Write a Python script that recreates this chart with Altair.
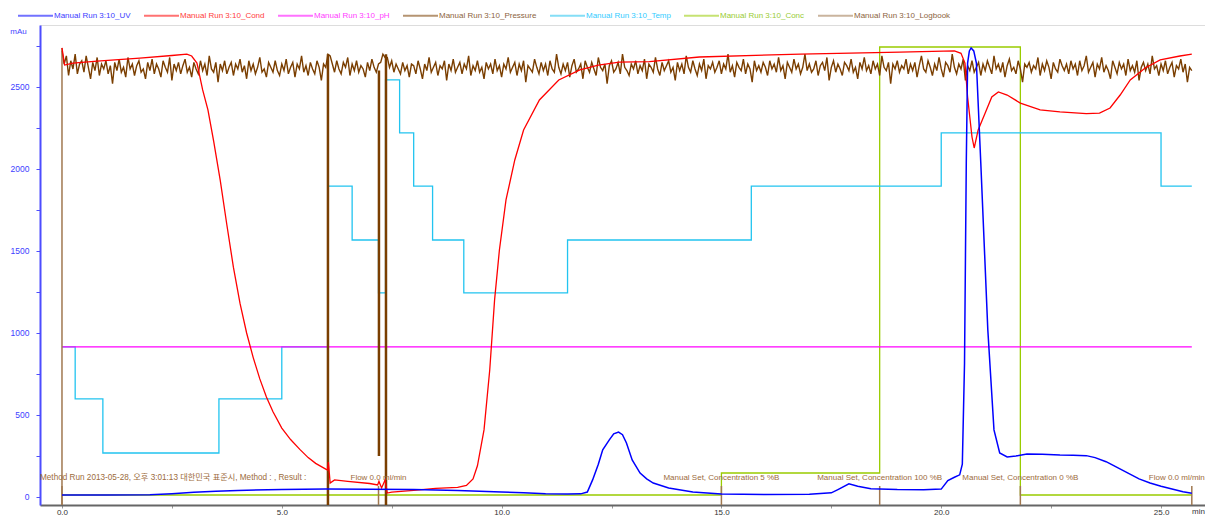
import altair as alt
import pandas as pd

# ---------------- data ----------------
series_names = ["Manual Run 3:10_UV", "Manual Run 3:10_Cond", "Manual Run 3:10_pH",
                "Manual Run 3:10_Pressure", "Manual Run 3:10_Temp", "Manual Run 3:10_Conc",
                "Manual Run 3:10_Logbook"]
line_colors = ["#0000FF", "#FF0000", "#FF00FF", "#7A3E00", "#22C4F0", "#99CC00", "#A07850"]
label_colors = ["#3C3CFF", "#FF3C3C", "#FF3CFF", "#8C6440", "#33CCFF", "#99CC33", "#8C6440"]

uv_t = [0.0, 1.0, 2.0, 2.5, 3.0, 3.5, 4.0, 5.0, 6.0, 7.0, 8.0, 9.0, 9.5, 10.0, 10.5, 11.0, 11.5,
        11.8, 11.95, 12.07, 12.2, 12.3, 12.45, 12.55, 12.66, 12.75, 12.84, 12.97, 13.15, 13.3,
        13.45, 13.8, 14.35, 15.0, 16.0, 17.0, 17.5, 17.65, 17.9, 18.1, 18.4, 19.0, 19.6, 20.0,
        20.15, 20.3, 20.42, 20.48, 20.53, 20.57, 20.6, 20.64, 20.68, 20.74, 20.8, 20.9, 21.06,
        21.2, 21.33, 21.5, 21.7, 21.95, 22.3, 22.7, 23.0, 23.3, 23.5, 23.75, 24.0, 24.25, 24.5,
        24.75, 25.0, 25.25, 25.5, 25.7]
uv_v = [12, 12, 14, 20, 28, 35, 40, 45, 48, 47, 45, 40, 35, 30, 25, 20, 18,
        19, 30, 104, 200, 287, 348, 385, 396, 380, 329, 226, 146, 110,
        85, 55, 30, 18, 15, 17, 25, 45, 80, 65, 50, 45, 44, 48,
        100, 120, 135, 200, 817, 2037, 2646, 2720, 2738, 2720, 2646, 2037, 1018,
        409, 268, 244, 250, 262, 260, 256, 255, 252, 240, 215, 180, 145, 110,
        85, 65, 48, 32, 22]

cond_t = [0.0, 0.06, 0.25, 0.8, 1.77, 2.5, 2.84, 2.95, 3.07, 3.2, 3.32, 3.45, 3.6, 3.75, 3.9,
          4.05, 4.2, 4.35, 4.5, 4.65, 4.8, 5.0, 5.2, 5.41, 5.6, 5.77, 6.0, 6.04, 6.06, 6.1, 6.2,
          6.5, 7.0, 7.18, 7.21, 7.27, 7.35, 7.4, 7.5, 8.0, 8.5, 9.0, 9.2, 9.35, 9.45, 9.6, 9.73,
          9.84, 9.95, 10.1, 10.3, 10.5, 10.86, 11.3, 11.78, 12.2, 12.68, 13.36, 14.5, 16.8, 19.06,
          20.3, 20.45, 20.54, 20.6, 20.7, 20.75, 20.84, 21.0, 21.15, 21.3, 21.5, 21.8, 22.25,
          22.7, 23.3, 23.6, 23.84, 24.07, 24.3, 24.64, 24.98, 25.43, 25.7]
cond_v = [2738, 2634, 2646, 2658, 2676, 2692, 2700, 2689, 2646, 2482, 2360, 2170, 1930, 1660, 1400,
          1180, 1000, 850, 720, 610, 520, 420, 350, 290, 240, 205, 170, 165, 213, 85, 104,
          95, 82, 73, 95, 55, 104, 24, 30, 40, 52, 58, 70, 110, 190, 409, 774,
          1200, 1506, 1811, 2055, 2238, 2421, 2543, 2604, 2634, 2652, 2655, 2683, 2701, 2713,
          2720, 2705, 2646, 2439, 2195, 2128, 2238, 2341, 2439, 2470, 2451, 2402, 2360,
          2348, 2338, 2341, 2372, 2451, 2543, 2616, 2665, 2689, 2700]

ph_t = [0.0, 25.7]
ph_v = [915, 915]

# pressure sampled every 0.05 min from 0.00 to 25.70
pressure_v = [
    2720, 2640, 2690, 2570, 2660, 2610, 2700, 2580, 2640, 2660, 2590, 2690, 2620, 2550, 2650, 2600, 2680, 2570, 2640, 2610,
    2660, 2580, 2630, 2520, 2650, 2600, 2670, 2590, 2620, 2560, 2680, 2610, 2640, 2570, 2630, 2660, 2590, 2610, 2550, 2650,
    2600, 2670, 2580, 2640, 2610, 2560, 2660, 2620, 2590, 2680, 2540, 2640, 2600, 2650, 2580, 2630, 2670, 2590, 2620, 2560,
    2650, 2610, 2580, 2660, 2600, 2640, 2570, 2690, 2610, 2590, 2650, 2530, 2640, 2600, 2660, 2580, 2620, 2650, 2570, 2640,
    2610, 2670, 2590, 2630, 2550, 2660, 2600, 2640, 2580, 2620, 2680, 2590, 2610, 2560, 2650, 2620, 2590, 2660, 2600, 2570,
    2640, 2600, 2670, 2580, 2620, 2650, 2560, 2640, 2610, 2690, 2590, 2630, 2570, 2650, 2610, 2580, 2660, 2620, 2540, 2640,
    2620, 2700, 2690, 2640, 2590, 2660, 2610, 2580, 2650, 2620, 2680, 2570, 2640, 2600, 2660, 2590, 2630, 2610, 2560, 2650,
    2600, 2670, 2620, 2590, 2640, 2650, 2700, 2680, 2680, 2620, 2660, 2590, 2640, 2610, 2580, 2650, 2600, 2630, 2560, 2640,
    2630, 2580, 2660, 2610, 2550, 2640, 2600, 2680, 2590, 2620, 2650, 2570, 2630, 2610, 2660, 2540, 2640, 2600, 2670, 2590,
    2620, 2650, 2580, 2640, 2610, 2690, 2570, 2630, 2600, 2660, 2590, 2620, 2550, 2650, 2610, 2640, 2580, 2670, 2600, 2630,
    2560, 2640, 2610, 2680, 2590, 2620, 2650, 2570, 2640, 2600, 2660, 2530, 2630, 2610, 2590, 2670, 2620, 2580, 2650, 2600,
    2640, 2570, 2660, 2610, 2590, 2700, 2620, 2580, 2640, 2600, 2650, 2560, 2630, 2670, 2590, 2610, 2640, 2550, 2660, 2620,
    2590, 2650, 2610, 2570, 2680, 2620, 2600, 2640, 2520, 2630, 2660, 2590, 2610, 2650, 2580, 2700, 2620, 2600, 2570, 2640,
    2610, 2660, 2580, 2630, 2600, 2670, 2550, 2640, 2620, 2590, 2680, 2610, 2570, 2650, 2600, 2630, 2660, 2590, 2620, 2540,
    2650, 2600, 2640, 2580, 2690, 2620, 2590, 2660, 2610, 2570, 2640, 2600, 2670, 2550, 2630, 2610, 2650, 2590, 2620, 2660,
    2580, 2640, 2610, 2700, 2590, 2630, 2560, 2650, 2620, 2600, 2670, 2580, 2640, 2610, 2530, 2660, 2600, 2630, 2590, 2650,
    2620, 2570, 2660, 2610, 2640, 2590, 2680, 2600, 2630, 2550, 2650, 2620, 2590, 2670, 2610, 2640, 2580, 2620, 2700, 2600,
    2640, 2590, 2610, 2660, 2570, 2630, 2650, 2600, 2680, 2540, 2620, 2660, 2590, 2640, 2610, 2570, 2650, 2630, 2600, 2670,
    2590, 2620, 2550, 2650, 2610, 2680, 2600, 2630, 2580, 2660, 2610, 2640, 2570, 2690, 2620, 2600, 2650, 2520, 2640, 2610,
    2660, 2590, 2630, 2610, 2670, 2580, 2640, 2600, 2650, 2560, 2630, 2690, 2610, 2590, 2660, 2620, 2570, 2640, 2600, 2680,
    2610, 2560, 2650, 2630, 2590, 2700, 2620, 2580, 2640, 2610, 2670, 2540, 2630, 2600, 2660, 2590, 2620, 2650, 2570, 2640,
    2600, 2660, 2620, 2580, 2690, 2610, 2640, 2590, 2650, 2560, 2630, 2670, 2600, 2620, 2580, 2660, 2610, 2530, 2640, 2620,
    2650, 2590, 2630, 2610, 2680, 2570, 2640, 2600, 2660, 2620, 2550, 2650, 2610, 2590, 2670, 2630, 2600, 2640, 2580, 2660,
    2610, 2640, 2570, 2660, 2600, 2630, 2690, 2590, 2620, 2650, 2560, 2640, 2610, 2680, 2590, 2630, 2600, 2550, 2660, 2620,
    2580, 2650, 2610, 2640, 2570, 2670, 2600, 2630, 2590, 2660, 2540, 2620, 2650, 2600, 2640, 2580, 2690, 2610, 2630, 2570,
    2640, 2600, 2660, 2580, 2620, 2650, 2560, 2630, 2610, 2670, 2590, 2640, 2530, 2620, 2600,
]
pressure_step = 0.05
spike_t = [6.05, 7.21, 7.37]
spike_low = [-200, 250, -200]
spike_high = [2700, 2600, 2700]

temp_t = [0.0, 0.3, 0.93, 3.57, 5.0, 6.05, 6.6, 7.2, 7.36, 7.68, 8.0, 8.43, 9.14, 11.5, 15.68, 20.0, 25.0, 25.7]
temp_v = [915, 598, 268, 598, 915, 1896, 1567, 1244, 2543, 2220, 1896, 1567, 1244, 1567, 1896, 2220, 1896, 1896]

conc_t = [0.0, 15.0, 18.6, 21.8, 25.7]
conc_v = [12, 146, 2744, 12, 12]

event_t = [0.0, 7.2, 15.0, 18.6, 21.8, 25.7]
event_label = ["Method Run 2013-05-28, 오후 3:01:13 대한민국 표준시, Method : , Result :",
               "Flow 0.0 ml/min", "Manual Set, Concentration 5 %B",
               "Manual Set, Concentration 100 %B", "Manual Set, Concentration 0 %B",
               "Flow 0.0 ml/min"]

y_ticks = [0, 250, 500, 750, 1000, 1250, 1500, 1750, 2000, 2250, 2500, 2750]
x_ticks = [0, 2.5, 5, 7.5, 10, 12.5, 15, 17.5, 20, 22.5, 25]

# ---------------- frames ----------------
UV, COND, PH, PRES, TEMP, CONC, LOG = series_names
uv_df = pd.DataFrame({"t": uv_t, "v": uv_v, "series": UV})
cond_df = pd.DataFrame({"t": cond_t, "v": cond_v, "series": COND})
ph_df = pd.DataFrame({"t": ph_t, "v": ph_v, "series": PH})
pres_df = pd.DataFrame({"t": [round(i * pressure_step, 2) for i in range(len(pressure_v))],
                        "v": pressure_v, "series": PRES})
spike_df = pd.DataFrame({"t": spike_t, "v": spike_low, "v2": spike_high, "series": PRES})
temp_df = pd.DataFrame({"t": temp_t, "v": temp_v, "series": TEMP})
conc_df = pd.DataFrame({"t": conc_t, "v": conc_v, "series": CONC})
ev_df = pd.DataFrame({"t": event_t, "label": event_label, "series": LOG})

FONT = "Liberation Sans, Noto Sans CJK KR"

expr = " : ".join(f"datum.value == '{n}' ? '{c}'" for n, c in zip(series_names, label_colors)) + " : '#333'"

legend = alt.Legend(orient="none", legendX=-23, legendY=-28, direction="horizontal", columns=7,
                    title=None, symbolType="stroke", symbolSize=1225, symbolStrokeWidth=2,
                    symbolOpacity=0.55, labelFontSize=8, labelFont=FONT, labelOffset=0,
                    columnPadding=9, padding=0, labelColor={"expr": expr}, labelLimit=0)

color = alt.Color("series:N", scale=alt.Scale(domain=series_names, range=line_colors), legend=legend)

xs = alt.Scale(domain=[-0.5, 26.0], nice=False, zero=False)
ys = alt.Scale(domain=[-49, 2878], nice=False, zero=False)

x_axis = alt.Axis(values=x_ticks, labelExpr="datum.value % 5 == 0 ? format(datum.value, '.1f') : ''",
                  title="min", titleX=1158, titleY=6, titleBaseline="middle", titleAlign="center",
                  titleFontSize=8, titleFontWeight="normal", titleColor="#333", titleFont=FONT,
                  domainColor="#666", domainWidth=2, tickColor="#999", tickSize=3, labelPadding=0,
                  labelFontSize=8, labelColor="#333", labelFont=FONT, grid=False, labelFlush=False)
y_axis = alt.Axis(values=y_ticks, labelExpr="datum.value % 500 == 0 ? datum.label : ''", format="d",
                  title="mAu", titleAngle=0, titleX=-22, titleY=6, titleAlign="center",
                  titleBaseline="middle", titleFontSize=8, titleFontWeight="normal",
                  titleColor="#4444FF", titleFont=FONT, domainColor="#4D4DFF", domainWidth=2,
                  tickColor="#4D4DFF", tickSize=4, labelPadding=7, labelFontSize=8.5,
                  labelColor="#4040FF", labelFont=FONT, grid=False)

X = alt.X("t:Q", scale=xs, axis=x_axis)
Y = alt.Y("v:Q", scale=ys, axis=y_axis)
Xn = alt.X("t:Q", scale=xs)
Yn = alt.Y("v:Q", scale=ys)

conc = alt.Chart(conc_df).mark_line(interpolate="step-after", strokeWidth=1.3, clip=True).encode(x=X, y=Y, color=color)
temp = alt.Chart(temp_df).mark_line(interpolate="step-after", strokeWidth=1.3, clip=True).encode(x=Xn, y=Yn, color=color)
ph = alt.Chart(ph_df).mark_line(strokeWidth=1.2, clip=True).encode(x=Xn, y=Yn, color=color)
pres = alt.Chart(pres_df).mark_line(strokeWidth=1.4, clip=True).encode(x=Xn, y=Yn, color=color)
spikes = alt.Chart(spike_df).mark_rule(strokeWidth=2.5, clip=True).encode(
    x=Xn, y=Yn, y2=alt.Y2("v2:Q"), color=color)
log_ticks = alt.Chart(ev_df).mark_rule(strokeWidth=1.5, clip=True).encode(
    x=Xn, y=alt.value(480), y2=alt.value(461), color=color)
log_first = alt.Chart(ev_df.iloc[[0]]).mark_rule(strokeWidth=1.5, clip=True).encode(
    x=Xn, y=alt.value(480), y2=alt.value(23), color=color)
cond = alt.Chart(cond_df).mark_line(strokeWidth=1.3, clip=True).encode(x=Xn, y=Yn, color=color)
uv = alt.Chart(uv_df).mark_line(strokeWidth=1.5, clip=True).encode(x=Xn, y=Yn, color=color)
texts_first = alt.Chart(ev_df.iloc[[0]]).mark_text(align="left", baseline="middle", dx=-22, fontSize=8.2,
                                                   font=FONT, color="#9C6B3C").encode(
    x=Xn, y=alt.value(453), text="label:N")
texts_mid = alt.Chart(ev_df.iloc[1:5]).mark_text(align="center", baseline="middle", fontSize=8,
                                                 font=FONT, color="#9C6B3C").encode(
    x=Xn, y=alt.value(453), text="label:N")
texts_last = alt.Chart(ev_df.iloc[[5]]).mark_text(align="right", baseline="middle", dx=13, fontSize=8,
                                                  font=FONT, color="#9C6B3C").encode(
    x=Xn, y=alt.value(453), text="label:N")

chart = alt.layer(conc, temp, ph, pres, spikes, log_first, log_ticks, cond, uv,
                  texts_first, texts_mid, texts_last).properties(
    width=1165, height=480,
    padding={"left": 32, "top": 17, "right": 0, "bottom": 11},
    autosize=alt.AutoSizeParams(type="none"),
).configure_view(stroke=None).configure(font=FONT)

chart.save("out.html", embed_options={"renderer": "svg", "actions": False})
